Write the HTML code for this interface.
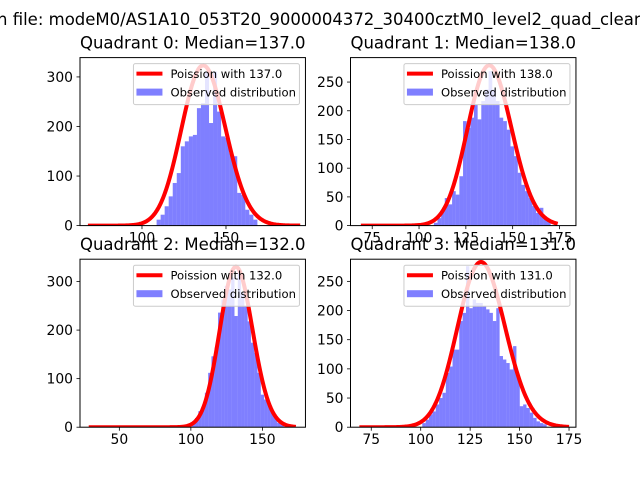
<!DOCTYPE html>
<html><head><meta charset="utf-8"><style>
html,body{margin:0;padding:0;background:#fff;}
svg{display:block;font-family:"DejaVu Sans","Liberation Sans",sans-serif;}
</style></head><body>
<svg id="fig" width="640" height="480" viewBox="0 0 640 480">
<text x="-3" y="25" font-size="16.5" fill="#000">n file: modeM0/AS1A10_053T20_9000004372_30400cztM0_level2_quad_clean</text>
</svg>
<script>
// ---- data ----
const medians = [137, 138, 132, 131];
const curveStart = [69, 70, 30, 70];
const curveEnd = [193, 173, 172, 174];
const curvePeaks = [323, 279, 330, 283];
const curveSpread = [1.12, 1.0, 1.0, 1.05];
const binStart = [108.7, 107.9, 100.6, 100.8];
const binWidth = [2.4, 1.95, 2.3, 1.7];
const counts0 = [12,22,39,59,86,106,160,170,180,183,237,247,311,207,311,230,180,177,146,140,66,62,32,22,12];
const counts1 = [5,13,28,48,37,60,54,86,182,170,188,211,185,217,237,269,237,217,188,182,167,138,121,92,71,60,48,34,22,31,16,8];
const counts2 = [9,19,33,43,71,112,146,164,236,263,291,284,308,229,318,277,249,218,174,153,112,67,57,47,30,19,9,5];
const counts3 = [7,13,22,27,39,50,59,93,104,133,133,182,196,276,204,219,213,213,207,202,196,182,204,122,116,110,99,139,87,36,39,33,25,16,10,7,5];
const allCounts = [counts0, counts1, counts2, counts3];
const xMin = [63.1, 63.4, 22.5, 64.5];
const xMax = [197.3, 183.8, 180.1, 178.5];
const yMax = [339, 292.6, 346, 288];
const xTicks0 = [100,150], xTicks1 = [75,100,125,150,175], xTicks2 = [50,100,150], xTicks3 = [75,100,125,150,175];
const yTicks0 = [0,100,200,300], yTicks1 = [0,50,100,150,200,250], yTicks2 = [0,100,200,300], yTicks3 = [0,50,100,150,200,250];
const allXTicks = [xTicks0, xTicks1, xTicks2, xTicks3];
const allYTicks = [yTicks0, yTicks1, yTicks2, yTicks3];

const NS = "http://www.w3.org/2000/svg";
const fig = document.getElementById('fig');
const axBox = [[80,57.6],[350.5,57.6],[80,259.2],[350.5,259.2]];
const AW = 225.45, AH = 168;
function mk(tag, attrs, parent){const e=document.createElementNS(NS,tag);for(const k in attrs)e.setAttribute(k,attrs[k]);(parent||fig).appendChild(e);return e;}
function lgam(n){ if(n<2) return 0; return n*Math.log(n)-n+0.5*Math.log(2*Math.PI*n)+1/(12*n)-1/(360*n*n*n);}
function logpmf(k,l){return k*Math.log(l)-l-lgam(k);}

for(let p=0;p<4;p++){
  const [X0,Y0]=axBox[p];
  const g=mk('g',{});
  
  
  const sx=v=>X0+(v-xMin[p])/(xMax[p]-xMin[p])*AW;
  const sy=v=>Y0+AH-v/yMax[p]*AH;
  const clipId='clip'+p;
  const cp=mk('clipPath',{id:clipId},g); mk('rect',{x:X0,y:Y0,width:AW,height:AH},cp);
  const plot=mk('g',{'clip-path':'url(#'+clipId+')'},g);
  const c=allCounts[p];
  for(let i=0;i<c.length;i++){
    const x0=binStart[p]+i*binWidth[p];
    const r=mk('rect',{x:sx(x0),y:sy(c[i]),width:sx(x0+binWidth[p])-sx(x0),height:sy(0)-sy(c[i]),fill:'#0000ff','fill-opacity':0.5},plot);
    
    
  }
  const lam=medians[p], norm=curvePeaks[p]/Math.exp(logpmf(Math.floor(lam),lam));
  let d='';
  for(let k=curveStart[p];k<=curveEnd[p];k+=0.5){
    const kk=lam+(k-lam)/curveSpread[p];
    const v=norm*Math.exp(logpmf(kk,lam));
    d+=(d?'L':'M')+sx(k).toFixed(2)+','+sy(v).toFixed(2);
  }
  const ln=mk('path',{d:d,fill:'none',stroke:'#ff0000','stroke-width':4,'stroke-linejoin':'round','stroke-linecap':'square'},plot);
  
  
  const fr=mk('rect',{x:X0,y:Y0,width:AW,height:AH,fill:'none',stroke:'#000','stroke-width':1},g);
  
  
  allXTicks[p].forEach(t=>{
    const x=sx(t);
    mk('line',{x1:x,x2:x,y1:Y0+AH,y2:Y0+AH+3.5,stroke:'#000','stroke-width':0.8},g);
    const tx=mk('text',{x:x,y:Y0+AH+17,'font-size':13.9,'text-anchor':'middle'},g);
    tx.textContent=t;
    
    
  });
  allYTicks[p].forEach(t=>{
    const y=sy(t);
    mk('line',{x1:X0-3.5,x2:X0,y1:y,y2:y,stroke:'#000','stroke-width':0.8},g);
    const tx=mk('text',{x:X0-7,y:y+5,'font-size':13.9,'text-anchor':'end'},g);
    tx.textContent=t;
    
    
  });
  const ti=mk('text',{x:X0+AW/2,y:Y0-9,'font-size':16.5,'text-anchor':'middle'},g);
  ti.textContent='Quadrant '+p+': Median='+medians[p].toFixed(1);
  
  
  const lg=mk('g',{},g);
  
  
  const lx=X0+AW-172, ly=Y0+6;
  mk('rect',{x:lx,y:ly,width:166,height:41,rx:2,fill:'#fff','fill-opacity':0.8,stroke:'#cccccc','stroke-width':1},lg);
  mk('line',{x1:lx+3,x2:lx+29,y1:ly+10,y2:ly+10,stroke:'#ff0000','stroke-width':4},lg);
  const t1=mk('text',{x:lx+37,y:ly+14.5,'font-size':11.6},lg);
  t1.textContent='Poission with '+medians[p].toFixed(1);
  
  
  mk('rect',{x:lx+3,y:ly+25,width:26,height:7,fill:'#0000ff','fill-opacity':0.5},lg);
  const t2=mk('text',{x:lx+37,y:ly+33,'font-size':11.6},lg);
  t2.textContent='Observed distribution';
  
  
}
</script>
</body></html>
